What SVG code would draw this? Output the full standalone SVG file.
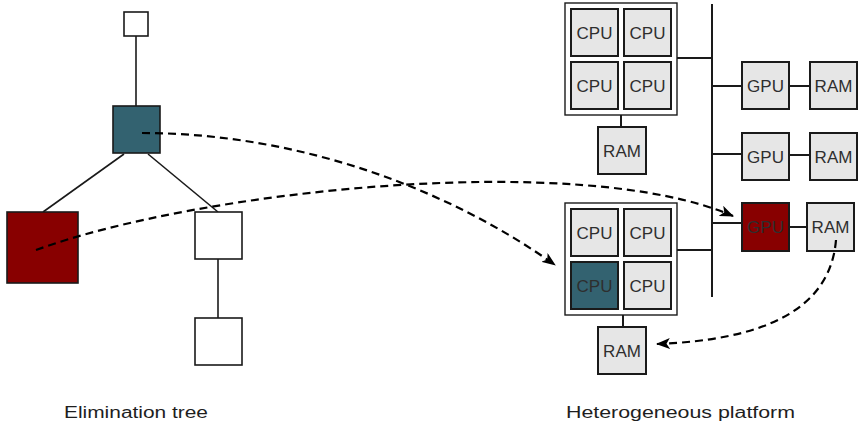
<svg xmlns="http://www.w3.org/2000/svg" width="863" height="425" viewBox="0 0 863 425">
  <style>
    .tree { fill: #ffffff; stroke: #1a1a1a; stroke-width: 1.6; }
    .edge { stroke: #1a1a1a; stroke-width: 1.6; fill: none; }
    .wire { stroke: #1a1a1a; stroke-width: 2; fill: none; }
    .pkg  { fill: #ffffff; stroke: #1a1a1a; stroke-width: 1.4; }
    .unit { fill: #e6e6e6; stroke: #1a1a1a; stroke-width: 2; }
    .red  { fill: #880000; }
    .teal { fill: #336270; }
    .lbl  { font-family: "Liberation Sans", Arial, sans-serif; font-size: 17px; fill: #2e2e2e; text-anchor: middle; }
    .cap  { font-family: "Liberation Sans", Arial, sans-serif; font-size: 16px; fill: #1e1e1e; }
    .move { stroke: #000000; stroke-width: 2.2; fill: none; stroke-dasharray: 8 5; }
  </style>
  <defs>
    <marker id="arrow" viewBox="0 0 14 11" refX="13" refY="5.5" markerWidth="14" markerHeight="11" markerUnits="userSpaceOnUse" orient="auto">
      <path d="M0,0 L14,5.5 L0,11 L3.5,5.5 z" fill="#000000"/>
    </marker>
  </defs>

  <!-- elimination tree edges -->
  <g id="tree-edges">
    <line class="edge" x1="136" y1="36" x2="136" y2="106"/>
    <line class="edge" x1="124" y1="154" x2="43" y2="212"/>
    <line class="edge" x1="148" y1="154" x2="218" y2="212"/>
    <line class="edge" x1="218" y1="259" x2="218" y2="318"/>
  </g>

  <!-- elimination tree nodes -->
  <g id="t-root"><rect class="tree" x="124" y="12" width="24" height="24"/></g>
  <g id="t-mid"><rect class="tree teal" x="113" y="106" width="47" height="47"/></g>
  <g id="t-left"><rect class="tree red" x="7" y="212" width="71" height="71"/></g>
  <g id="t-right"><rect class="tree" x="195" y="212" width="47" height="47"/></g>
  <g id="t-leaf"><rect class="tree" x="195" y="318" width="47" height="47"/></g>

  <!-- platform wiring -->
  <g id="platform-wires">
    <line class="wire" x1="712" y1="4" x2="712" y2="297"/>
    <line class="wire" x1="677" y1="58" x2="712" y2="58"/>
    <line class="wire" x1="677" y1="250" x2="712" y2="250"/>
    <line class="wire" x1="621" y1="115" x2="621" y2="127"/>
    <line class="wire" x1="623" y1="315" x2="623" y2="327"/>
    <line class="wire" x1="712" y1="86" x2="742" y2="86"/>
    <line class="wire" x1="789" y1="86" x2="810" y2="86"/>
    <line class="wire" x1="712" y1="154" x2="742" y2="154"/>
    <line class="wire" x1="789" y1="155" x2="810" y2="155"/>
    <line class="wire" x1="712" y1="223" x2="742" y2="223"/>
    <line class="wire" x1="789" y1="227" x2="807" y2="227"/>
  </g>

  <!-- upper multicore package -->
  <g id="pkg-top">
    <rect class="pkg" x="565" y="3" width="112" height="112"/>
    <rect class="unit" x="571" y="9" width="47" height="47"/><text class="lbl" x="594.5" y="38.8">CPU</text>
    <rect class="unit" x="624" y="9" width="47" height="47"/><text class="lbl" x="647.5" y="38.8">CPU</text>
    <rect class="unit" x="571" y="62" width="47" height="47"/><text class="lbl" x="594.5" y="91.8">CPU</text>
    <rect class="unit" x="624" y="62" width="47" height="47"/><text class="lbl" x="647.5" y="91.8">CPU</text>
  </g>
  <g id="ram-top"><rect class="unit" x="598" y="127" width="48" height="47"/><text class="lbl" x="622" y="156.8">RAM</text></g>

  <!-- lower multicore package -->
  <g id="pkg-bottom">
    <rect class="pkg" x="565" y="203" width="112" height="112"/>
    <rect class="unit" x="571" y="209" width="47" height="47"/><text class="lbl" x="594.5" y="238.8">CPU</text>
    <rect class="unit" x="624" y="209" width="47" height="47"/><text class="lbl" x="647.5" y="238.8">CPU</text>
    <rect class="unit teal" x="571" y="262" width="47" height="47"/><text class="lbl" x="594.5" y="291.8">CPU</text>
    <rect class="unit" x="624" y="262" width="47" height="47"/><text class="lbl" x="647.5" y="291.8">CPU</text>
  </g>
  <g id="ram-bottom"><rect class="unit" x="598" y="327" width="48" height="47"/><text class="lbl" x="622" y="356.8">RAM</text></g>

  <!-- accelerators with their memories -->
  <g id="gpu-1"><rect class="unit" x="742" y="62" width="47" height="47"/><text class="lbl" x="765.5" y="91.8">GPU</text></g>
  <g id="gram-1"><rect class="unit" x="810" y="62" width="47" height="47"/><text class="lbl" x="833.5" y="91.8">RAM</text></g>
  <g id="gpu-2"><rect class="unit" x="742" y="133" width="47" height="47"/><text class="lbl" x="765.5" y="162.8">GPU</text></g>
  <g id="gram-2"><rect class="unit" x="810" y="133" width="47" height="47"/><text class="lbl" x="833.5" y="162.8">RAM</text></g>
  <g id="gpu-3"><rect class="unit red" x="742" y="203" width="47" height="48"/><text class="lbl" x="765.5" y="233">GPU</text></g>
  <g id="gram-3"><rect class="unit" x="807" y="203" width="47" height="48"/><text class="lbl" x="830.5" y="233">RAM</text></g>

  <!-- task mapping and data transfer -->
  <g id="mapping">
    <path class="move" marker-end="url(#arrow)" d="M142,133 C300,133 450,190 555,265"/>
    <path class="move" marker-end="url(#arrow)" d="M36,250 C200,190 580,150 733,216"/>
    <path class="move" marker-end="url(#arrow)" d="M836,240 C830,312 760,340 657,344"/>
  </g>

  <!-- captions -->
  <g id="captions">
    <text class="cap" x="64" y="418" textLength="144" lengthAdjust="spacingAndGlyphs">Elimination tree</text>
    <text class="cap" x="566" y="418" textLength="229" lengthAdjust="spacingAndGlyphs">Heterogeneous platform</text>
  </g>
</svg>
